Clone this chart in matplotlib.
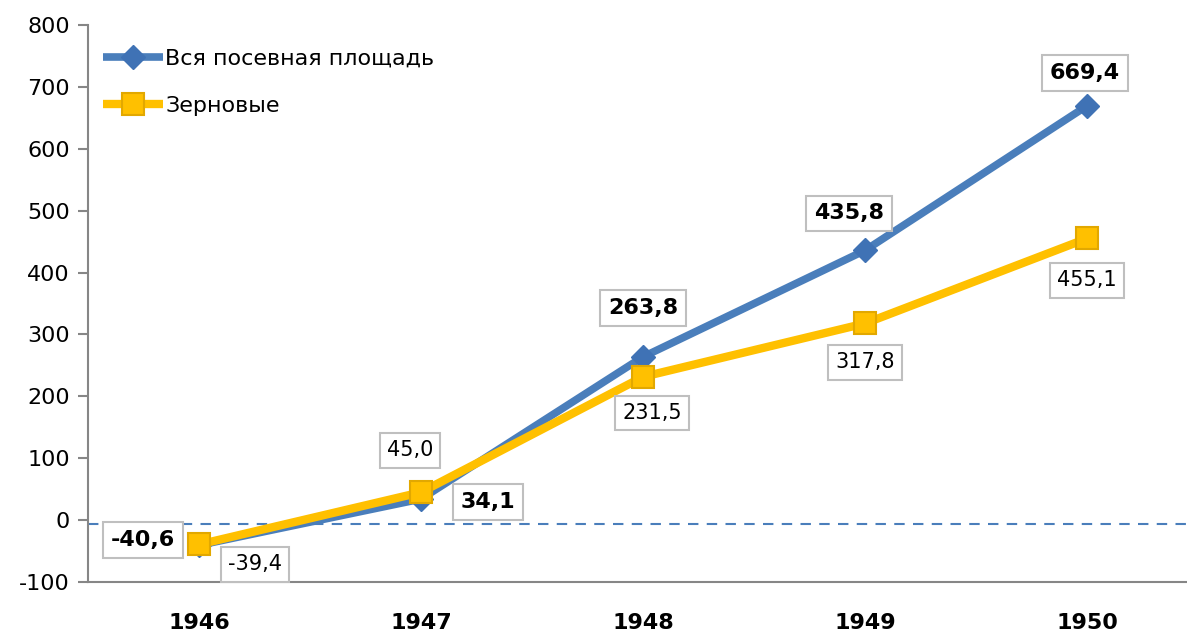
import matplotlib
matplotlib.use("Agg")
import matplotlib.pyplot as plt

years = ["1946", "1947", "1948", "1949", "1950"]
total_area = [-40.6, 34.1, 263.8, 435.8, 669.4]
grain = [-39.4, 45.0, 231.5, 317.8, 455.1]
ref_level = -6
total_name = "Вся посевная площадь"
grain_name = "Зерновые"

# label offsets (pixels) from each point
total_off = [(-56, 5), (67, -3), (0, 49), (-16, 37), (-2, 33)]
grain_off = [(56, -20), (-11, 42), (9, -36), (0, -39), (0, -42)]

BLUE = "#4a7ebb"
GOLD = "#ffc000"

plt.rcParams["font.family"] = ["DejaVu Sans"]
plt.rcParams["axes.unicode_minus"] = False
fig = plt.figure(figsize=(11.87, 6.36), dpi=100)
ax = fig.add_axes([88 / 1187, 54 / 636, 1110 / 1187, 557 / 636])

x = list(range(len(years)))
ax.axhline(ref_level, color=BLUE, lw=1.5, ls=(0, (5, 4)), zorder=1)
ax.plot(x, total_area, color=BLUE, lw=5.5, marker="D", ms=12,
        mfc="#3f72b5", mec="#3f72b5", label=total_name, zorder=3,
        solid_capstyle="butt")
ax.plot(x, grain, color=GOLD, lw=6, marker="s", ms=16,
        mfc=GOLD, mec="#e2a800", mew=1.5, label=grain_name, zorder=4,
        solid_capstyle="butt")

box = dict(boxstyle="square,pad=0.35", fc="white", ec="#bfbfbf", lw=1.5)
for i, v in enumerate(total_area):
    ax.annotate(f"{v:.1f}".replace(".", ","), (i, v), xytext=total_off[i],
                textcoords="offset pixels", ha="center", va="center",
                fontsize=16, fontweight="bold", bbox=box, zorder=6)
for i, v in enumerate(grain):
    ax.annotate(f"{v:.1f}".replace(".", ","), (i, v), xytext=grain_off[i],
                textcoords="offset pixels", ha="center", va="center",
                fontsize=15, bbox=box, zorder=6)

ax.set_xlim(-0.5, 4.5)
ax.set_ylim(-100, 800)
ax.set_yticks(range(-100, 801, 100))
ax.set_xticks(x)
ax.set_xticklabels(years, fontsize=16, fontweight="bold")
ax.tick_params(axis="x", length=0, pad=22)
ax.tick_params(axis="y", length=7, width=1.5, color="#868686", labelsize=16, pad=6)
for s in ["top", "right"]:
    ax.spines[s].set_visible(False)
for s in ["left", "bottom"]:
    ax.spines[s].set_color("#868686")
    ax.spines[s].set_linewidth(1.5)

ax.legend(loc="upper left", bbox_to_anchor=(0.0135, 0.958), frameon=False,
          fontsize=16, handlelength=2.7, handletextpad=0.1, labelspacing=1.25,
          borderpad=0, borderaxespad=0, markerscale=1.0)

fig.savefig("out.png", dpi=100)
